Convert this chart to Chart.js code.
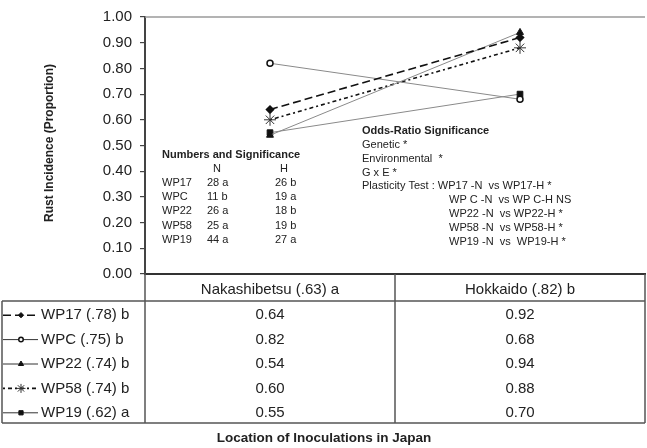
<!DOCTYPE html>
<html>
<head>
<meta charset="utf-8">
<script src="https://cdn.jsdelivr.net/npm/chart.js@4.4.1/dist/chart.umd.min.js"></script>
<style>
    html, body { margin: 0; padding: 0; background: #fff; }
    #wrap { position: relative; width: 647px; height: 448px; }
</style>
</head>
<body>
<div id="wrap"><canvas id="rustChart" width="647" height="448"></canvas></div>
<script>
// Locations (x categories) and their mean / significance labels
const locations = ['Nakashibetsu', 'Hokkaido'];
const locationLabels = ['Nakashibetsu (.63) a', 'Hokkaido (.82) b'];

// Families and their legend labels
const families = ['WP17', 'WPC', 'WP22', 'WP58', 'WP19'];
const familyLabels = ['WP17 (.78) b', 'WPC (.75) b', 'WP22 (.74) b', 'WP58 (.74) b', 'WP19 (.62) a'];

// Rust incidence (proportion) per family, per location
const wp17 = [0.64, 0.92];
const wpc = [0.82, 0.68];
const wp22 = [0.54, 0.94];
const wp58 = [0.60, 0.88];
const wp19 = [0.55, 0.70];

// Y tick values
const yTicks = [0, 0.1, 0.2, 0.3, 0.4, 0.5, 0.6, 0.7, 0.8, 0.9, 1.0];

// Text boxes inside the plot
const numbersRows = [
    ['WP17', '28 a', '26 b'],
    ['WPC', '11 b', '19 a'],
    ['WP22', '26 a', '18 b'],
    ['WP58', '25 a', '19 b'],
    ['WP19', '44 a', '27 a']
];
const oddsLines = ['Genetic *', 'Environmental  *', 'G x E *', 'Plasticity Test : WP17 -N  vs WP17-H *'];
const plasticityLines = ['WP C -N  vs WP C-H NS', 'WP22 -N  vs WP22-H *', 'WP58 -N  vs WP58-H *', 'WP19 -N  vs  WP19-H *'];

const FONT = '"Liberation Sans", Arial, sans-serif';

const makeSet = (label, data, opts) => Object.assign({
    label: label,
    data: data,
    fill: false,
    tension: 0,
    pointRadius: 3.5,
    pointHoverRadius: 3.5
}, opts);

const datasets = [
    makeSet(families[0], wp17, { borderColor: '#111', borderWidth: 1.6, borderDash: [8, 4], pointStyle: 'rectRot', pointRadius: 3.5, pointBackgroundColor: '#111', pointBorderColor: '#111' }),
    makeSet(families[1], wpc, { borderColor: '#8a8a8a', borderWidth: 1, pointStyle: 'circle', pointRadius: 3, pointBackgroundColor: '#fff', pointBorderColor: '#111', pointBorderWidth: 1.5 }),
    makeSet(families[2], wp22, { borderColor: '#8a8a8a', borderWidth: 1, pointStyle: 'triangle', pointRadius: 4, pointBackgroundColor: '#111', pointBorderColor: '#111' }),
    makeSet(families[3], wp58, { borderColor: '#111', borderWidth: 1.6, borderDash: [2, 3, 4, 3], pointStyle: 'star', pointRadius: 6, pointBackgroundColor: '#333', pointBorderColor: '#333', pointBorderWidth: 1 }),
    makeSet(families[4], wp19, { borderColor: '#8a8a8a', borderWidth: 1, pointStyle: 'rect', pointRadius: 4, pointBackgroundColor: '#111', pointBorderColor: '#111' })
];

// Draws the top frame line, text boxes, axis titles and the data table
const extrasPlugin = {
    id: 'extras',
    afterDraw(chart) {
        const ctx = chart.ctx;
        const area = chart.chartArea;
        const xs = chart.scales.x;
        ctx.save();

        // top edge of plot area
        ctx.strokeStyle = '#9a9a9a';
        ctx.lineWidth = 1.5;
        ctx.beginPath();
        ctx.moveTo(area.left, area.top);
        ctx.lineTo(area.right, area.top);
        ctx.stroke();

        ctx.fillStyle = '#222';
        ctx.textBaseline = 'middle';

        // Numbers and Significance
        ctx.textAlign = 'left';
        ctx.font = 'bold 11px ' + FONT;
        ctx.fillText('Numbers and Significance', 162, 155);
        ctx.font = '11px ' + FONT;
        ctx.textAlign = 'center';
        ctx.fillText('N', 217, 169);
        ctx.fillText('H', 284, 169);
        ctx.textAlign = 'left';
        numbersRows.forEach((row, i) => {
            const y = 183 + i * 14.2;
            ctx.fillText(row[0], 162, y);
            ctx.fillText(row[1], 207, y);
            ctx.fillText(row[2], 275, y);
        });

        // Odds-Ratio Significance
        ctx.font = 'bold 11px ' + FONT;
        ctx.fillText('Odds-Ratio Significance', 362, 131);
        ctx.font = '11px ' + FONT;
        oddsLines.forEach((t, i) => ctx.fillText(t, 362, 145 + i * 13.8));
        plasticityLines.forEach((t, i) => ctx.fillText(t, 449, 200 + i * 14));

        // y axis title
        ctx.save();
        ctx.translate(50, 143);
        ctx.rotate(-Math.PI / 2);
        ctx.textAlign = 'center';
        ctx.font = 'bold 12px ' + FONT;
        ctx.fillText('Rust Incidence (Proportion)', 0, 0);
        ctx.restore();

        // data table
        const top = area.bottom;
        const headBottom = top + 27;
        const bottom = 423;
        const rowH = (bottom - headBottom) / families.length;
        const divX = (xs.getPixelForValue(0) + xs.getPixelForValue(1)) / 2;

        ctx.strokeStyle = '#555';
        ctx.lineWidth = 1.5;
        ctx.beginPath();
        [area.left, divX, area.right].forEach(x => {
            ctx.moveTo(x, top);
            ctx.lineTo(x, bottom);
        });
        ctx.moveTo(2, headBottom);
        ctx.lineTo(2, bottom);
        ctx.moveTo(2, headBottom);
        ctx.lineTo(area.right, headBottom);
        ctx.moveTo(2, bottom);
        ctx.lineTo(area.right, bottom);
        ctx.stroke();

        ctx.fillStyle = '#222';
        ctx.font = '15px ' + FONT;
        ctx.textAlign = 'center';
        locationLabels.forEach((t, i) => ctx.fillText(t, xs.getPixelForValue(i), (top + headBottom) / 2 + 2));

        chart.data.datasets.forEach((ds, r) => {
            const y = headBottom + rowH * (r + 0.5) + 2;
            ds.data.forEach((v, c) => {
                ctx.textAlign = 'center';
                ctx.fillText(v.toFixed(2), xs.getPixelForValue(c), y);
            });

            // legend key: line sample and marker
            ctx.save();
            ctx.strokeStyle = ds.borderWidth > 1 ? ds.borderColor : '#333';
            ctx.lineWidth = ds.borderWidth;
            ctx.setLineDash(ds.borderDash || []);
            ctx.beginPath();
            ctx.moveTo(3, y);
            ctx.lineTo(38, y);
            ctx.stroke();
            ctx.restore();
            ctx.save();
            ctx.fillStyle = ds.pointBackgroundColor;
            ctx.strokeStyle = ds.pointBorderColor;
            ctx.lineWidth = ds.pointBorderWidth || 1;
            Chart.helpers.drawPoint(ctx, {
                pointStyle: ds.pointStyle,
                radius: ds.pointRadius * 0.75,
                rotation: 0,
                borderWidth: ds.pointBorderWidth || 1
            }, 21, y);
            ctx.restore();

            ctx.fillStyle = '#222';
            ctx.textAlign = 'left';
            ctx.font = '15px ' + FONT;
            ctx.fillText(familyLabels[r], 41, y);
        });

        // x axis title
        ctx.font = 'bold 13.5px ' + FONT;
        ctx.textAlign = 'center';
        ctx.fillText('Location of Inoculations in Japan', 324, 438);

        ctx.restore();
    }
};

new Chart(document.getElementById('rustChart'), {
    type: 'line',
    data: {
        labels: locations,
        datasets: datasets
    },
    options: {
        responsive: false,
        animation: false,
        layout: {
            autoPadding: false,
            padding: { left: 0, top: 14, right: 2, bottom: 0 }
        },
        plugins: {
            legend: { display: false },
            tooltip: { enabled: false }
        },
        scales: {
            x: {
                type: 'category',
                offset: true,
                grid: { display: false },
                ticks: { display: false },
                border: { display: true, color: '#333', width: 2 },
                afterFit: (scale) => { scale.height = 174; }
            },
            y: {
                min: 0,
                max: 1,
                afterBuildTicks: (scale) => { scale.ticks = yTicks.map(v => ({ value: v })); },
                ticks: {
                    callback: (v) => Number(v).toFixed(2),
                    color: '#222',
                    padding: 8,
                    font: { family: FONT, size: 15 }
                },
                grid: {
                    display: true,
                    drawOnChartArea: false,
                    drawTicks: true,
                    tickLength: 5,
                    color: '#444',
                    lineWidth: 1.2
                },
                border: { display: true, color: '#444', width: 2 },
                afterFit: (scale) => { scale.width = 145; }
            }
        }
    },
    plugins: [extrasPlugin]
});
</script>
</body>
</html>
